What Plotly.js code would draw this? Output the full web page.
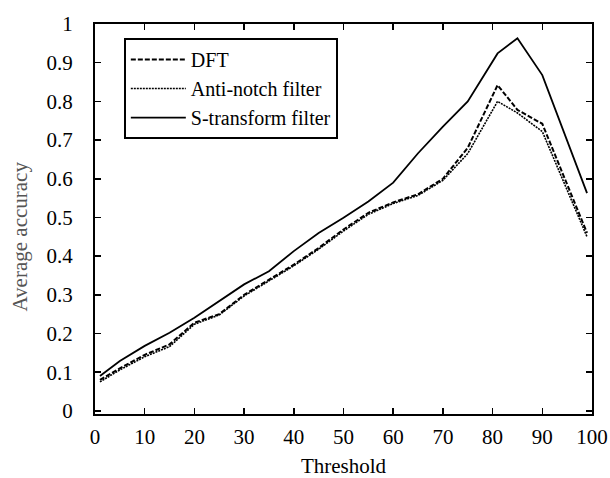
<!DOCTYPE html>
<html>
<head>
<meta charset="utf-8">
<script src="https://cdn.plot.ly/plotly-3.0.1.min.js"></script>
<style>html,body{margin:0;padding:0;background:#fff;}</style>
</head>
<body>
<div id="chart" style="width:610px;height:478px;"></div>
<script>
var thresholds = [1,5,10,15,20,25,30,35,40,45,50,55,60,65,70,75,81,85,90,99];
var dft        = [0.08,0.11,0.145,0.172,0.228,0.25,0.30,0.34,0.378,0.421,0.469,0.512,0.539,0.56,0.60,0.68,0.842,0.778,0.742,0.46];
var antiNotch  = [0.075,0.106,0.14,0.166,0.224,0.248,0.297,0.337,0.375,0.418,0.465,0.508,0.536,0.557,0.596,0.665,0.80,0.77,0.722,0.45];
var sThresholds = [1,5,10,15,20,25,30,35,40,45,50,55,60,65,70,75,81,85,90,99];
var sTransform = [0.09,0.129,0.168,0.202,0.241,0.285,0.327,0.361,0.413,0.46,0.499,0.541,0.59,0.666,0.735,0.80,0.924,0.963,0.868,0.563];
var yTickVals = [0,0.1,0.2,0.3,0.4,0.5,0.6,0.7,0.8,0.9,1];
var yTickText = ['0','0.1','0.2','0.3','0.4','0.5','0.6','0.7','0.8','0.9','1'];
var xTickVals = [0,10,20,30,40,50,60,70,80,90,100];
var xTitle = 'Threshold';
var yTitle = 'Average accuracy';

var serif = 'Liberation Serif, Times New Roman, serif';

var traces = [
  {x: thresholds, y: dft, name: 'DFT', mode: 'lines',
   line: {color: '#000', width: 2, dash: '5px,2px'}},
  {x: thresholds, y: antiNotch, name: 'Anti-notch filter', mode: 'lines',
   line: {color: '#000', width: 1.6, dash: '2px,1px'}},
  {x: sThresholds, y: sTransform, name: 'S-transform filter', mode: 'lines',
   line: {color: '#000', width: 1.8}}
];

var layout = {
  width: 610, height: 478,
  margin: {l: 95, r: 18, t: 24, b: 64},
  paper_bgcolor: '#fff', plot_bgcolor: '#fff',
  font: {family: serif, color: '#000', size: 21},
  showlegend: true,
  legend: {
    x: 0.058, y: 0.964, xanchor: 'left', yanchor: 'top',
    bordercolor: '#000', borderwidth: 2, bgcolor: '#fff',
    font: {family: serif, size: 20, color: '#000'},
    itemwidth: 55
  },
  xaxis: {
    range: [0, 100], tickvals: xTickVals,
    showgrid: false, zeroline: false,
    showline: true, linecolor: '#000', linewidth: 2, mirror: 'ticks',
    ticks: 'inside', ticklen: 6, tickwidth: 1.5, tickcolor: '#000',
    ticklabelstandoff: 3,
    tickfont: {family: serif, size: 21, color: '#000'},
    title: {text: xTitle, font: {family: serif, size: 21, color: '#000'}, standoff: 12}
  },
  yaxis: {
    range: [-0.008, 1.0], tickvals: yTickVals, ticktext: yTickText,
    showgrid: false, zeroline: false,
    showline: true, linecolor: '#000', linewidth: 2, mirror: 'ticks',
    ticks: 'inside', ticklen: 6, tickwidth: 1.5, tickcolor: '#000',
    ticklabelstandoff: 16,
    tickfont: {family: serif, size: 21, color: '#000'}
  },
  annotations: [{
    text: yTitle, xref: 'paper', yref: 'paper', x: -0.151, y: 0.455,
    xanchor: 'center', yanchor: 'middle', textangle: -90, showarrow: false,
    font: {family: serif, size: 21, color: '#555'}
  }]
};

Plotly.newPlot('chart', traces, layout, {displayModeBar: false, staticPlot: true});
</script>
</body>
</html>
